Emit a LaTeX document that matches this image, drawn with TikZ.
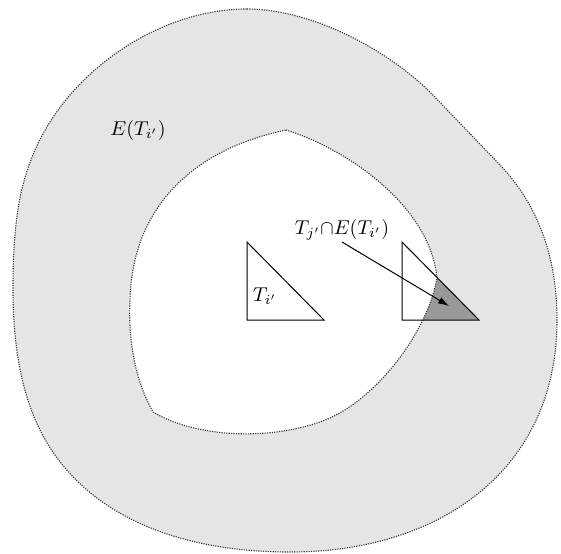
\documentclass[tikz,border=0pt]{standalone}
\usetikzlibrary{arrows.meta}
\definecolor{lightshade}{HTML}{E5E5E5}
\definecolor{darkshade}{HTML}{999999}
\definecolor{dotline}{HTML}{383838}
\begin{document}
\begin{tikzpicture}[x=0.5pt,y=-0.5pt,
  dotborder/.style={draw=dotline,line width=0.55pt,dash pattern=on 0.6pt off 0.6pt},
  tri/.style={draw=black,line width=0.5pt},
  lbl/.style={inner sep=0.5pt,font=\normalsize},
  arr/.style={draw=black,line width=0.5pt,-{Latex[length=5.5pt,width=3.5pt]}}]
\useasboundingbox (0,0) rectangle (561,553);
% outer region
\def\outerpath{(247,9) .. controls (310,9) and (385,48) .. (430,92)
  -- (500,165)
  .. controls (540,207) and (557,260) .. (557,320)
  .. controls (557,470) and (440,552) .. (290,552)
  .. controls (170,552) and (80,510) .. (40,430)
  .. controls (20,390) and (13,340) .. (13,290)
  .. controls (13,220) and (20,185) .. (35,150)
  .. controls (70,70) and (160,9) .. (247,9) -- cycle}
\def\innerpath{(286,130) .. controls (345,148) and (430,205) .. (437,278)
  .. controls (428,330) and (380,395) .. (330,418)
  .. controls (280,440) and (200,440) .. (153,412)
  .. controls (135,380) and (128,340) .. (130,300)
  .. controls (132,210) and (190,150) .. (286,130) -- cycle}
\fill[lightshade] \outerpath;
\fill[white] \innerpath;
% triangles
\coordinate (a1) at (247,242); \coordinate (b1) at (247,320); \coordinate (c1) at (324,320);
\coordinate (a2) at (402,242); \coordinate (b2) at (402,320); \coordinate (c2) at (479,320);
\begin{scope}
  \clip (a2) -- (b2) -- (c2) -- cycle;
  \fill[darkshade] (380,230) rectangle (500,330);
  \fill[white] \innerpath;
\end{scope}
\draw[dotborder] \outerpath;
\draw[dotborder] \innerpath;
\draw[tri] (a1) -- (b1) -- (c1) -- cycle;
\draw[tri] (a2) -- (b2) -- (c2) -- cycle;
% labels
\node[lbl] (eti) at (138,130) {$E(T_{i'})$};
\node[lbl] (ti) at (265,296) {$T_{i'}$};
\node[lbl,anchor=south] (inter) at (342,242) {$T_{j'}{\cap}E(T_{i'})$};
\coordinate (tip) at (449,306);
\draw[arr] (inter.south) -- (tip);
\end{tikzpicture}
\end{document}
